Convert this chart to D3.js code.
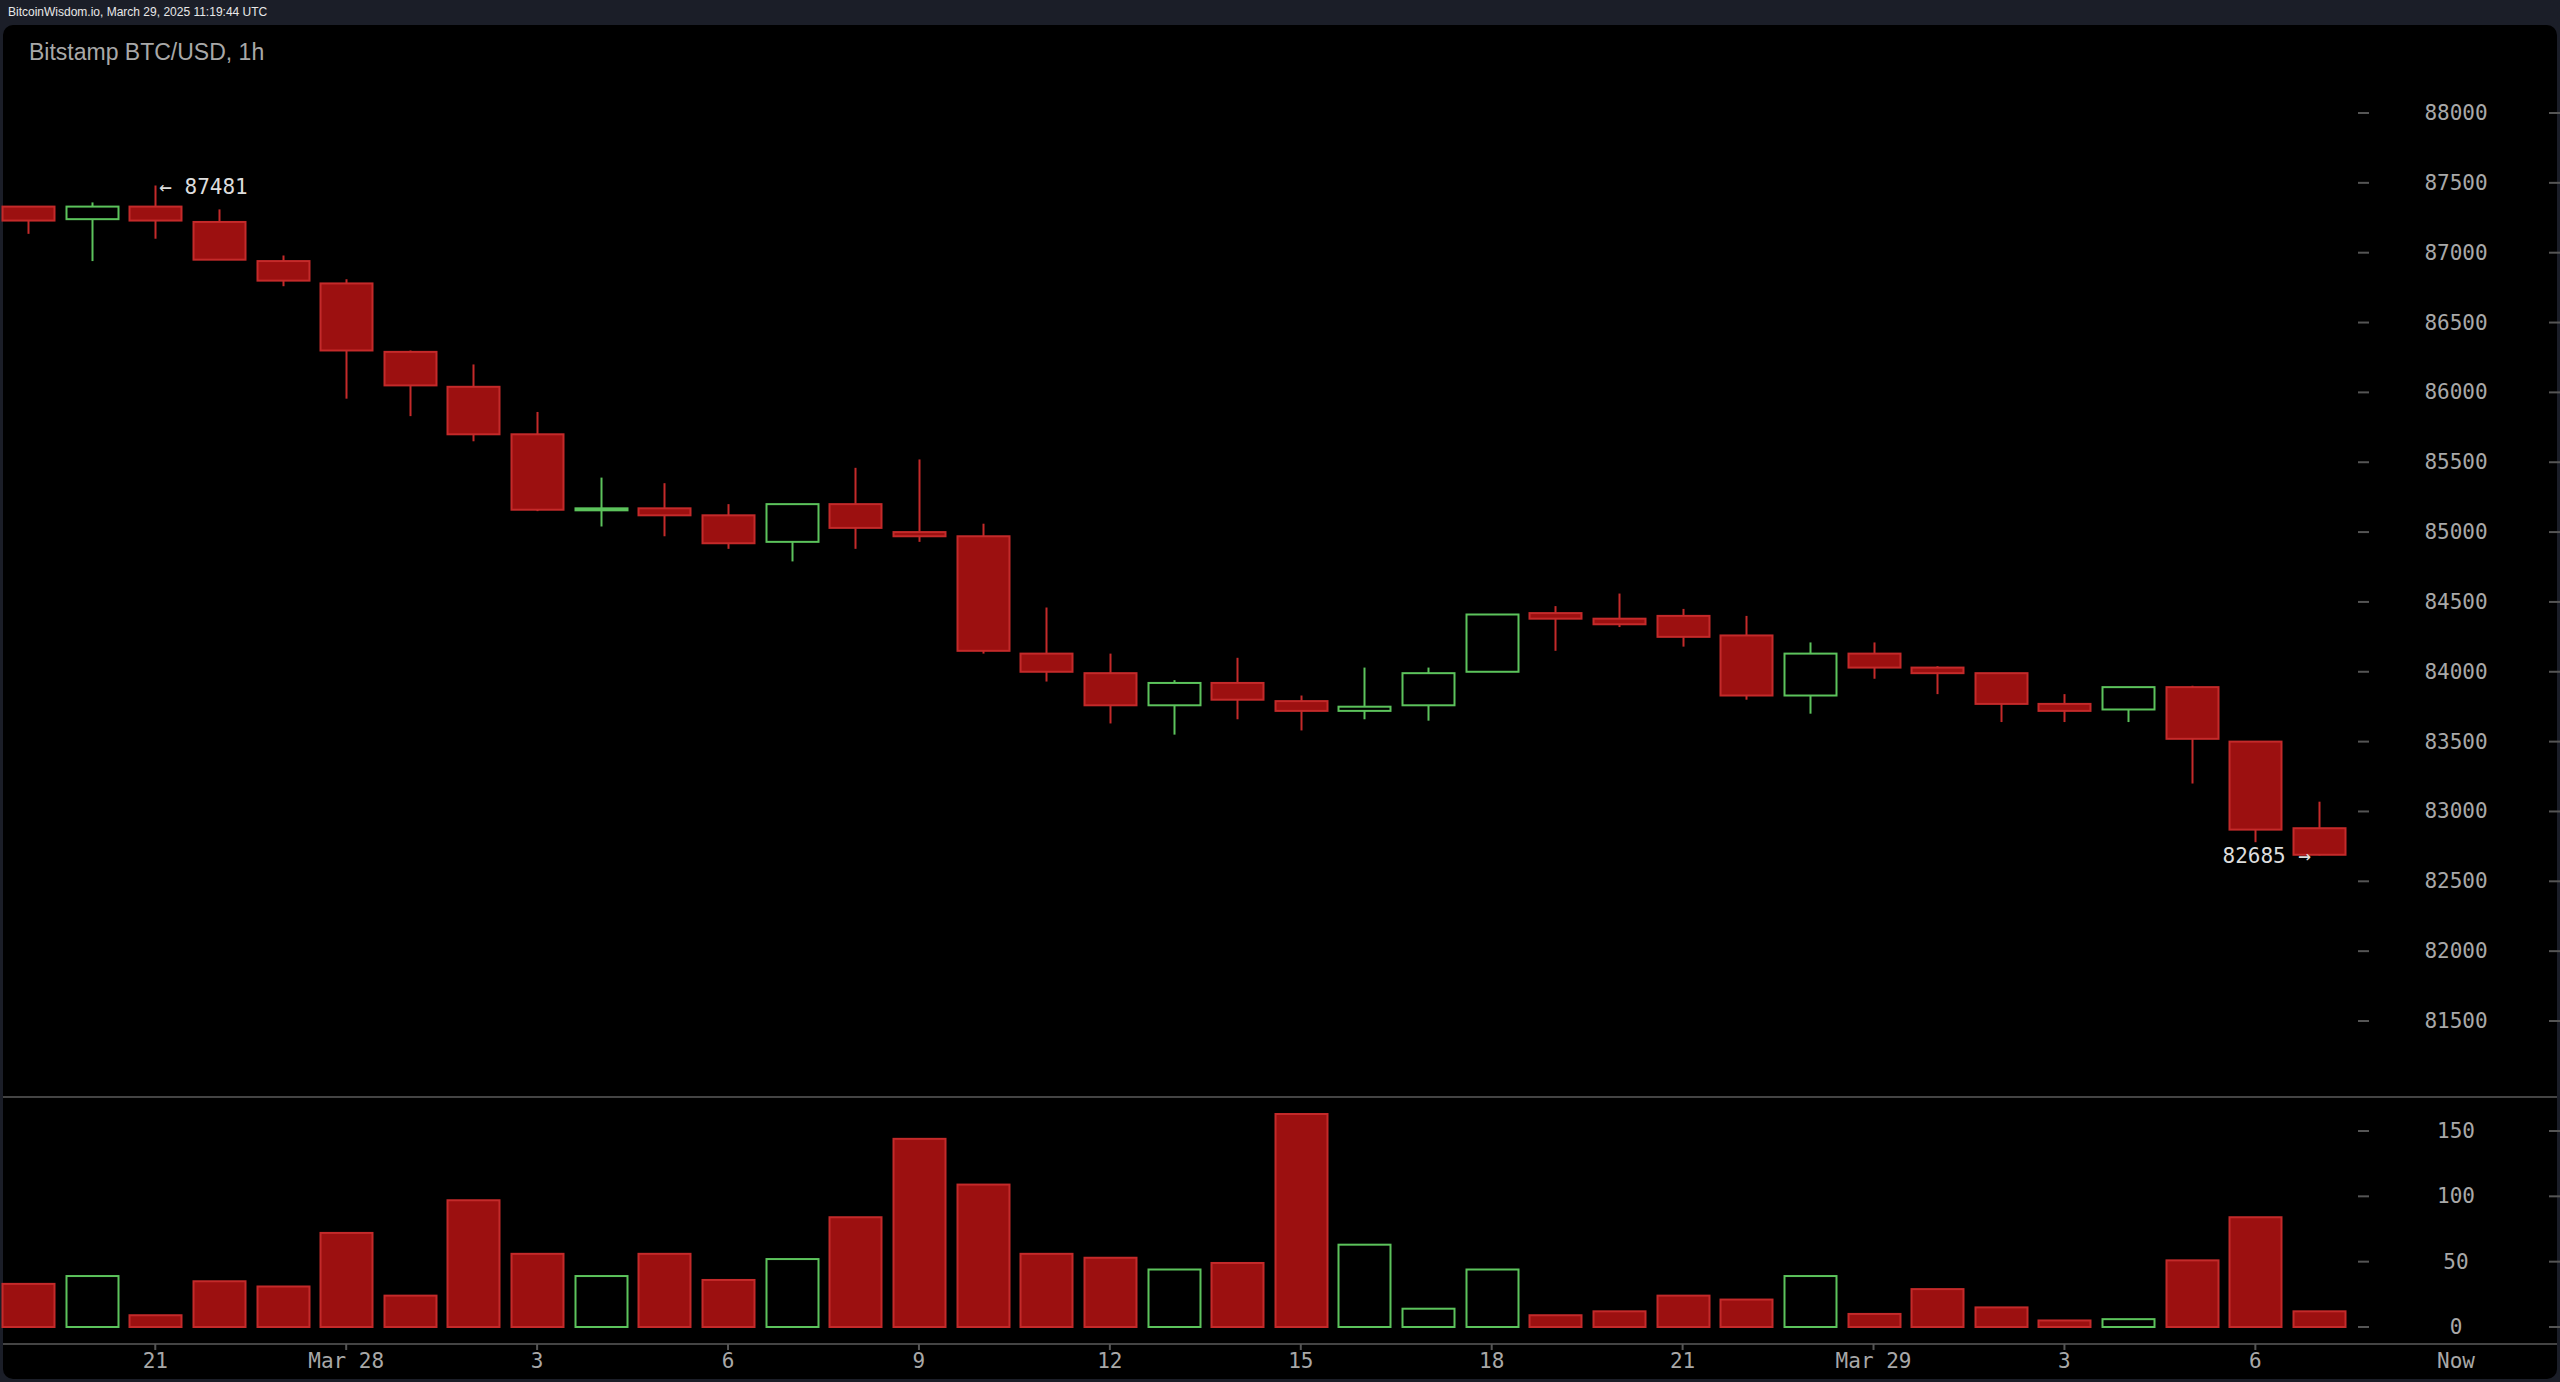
<!DOCTYPE html>
<html>
<head>
<script src="https://cdn.jsdelivr.net/npm/d3@7"></script>
<style>
  * { margin: 0; padding: 0; }
  body { background: #1b1e28; width: 2560px; height: 1382px; overflow: hidden; }
</style>
</head>
<body>
<svg id="viz"></svg>
<script>
// OHLC, one candle per hour (Mar 27 19:00 .. Mar 29 07:00)
var opens  = [87330,87240,87330,87220,86940,86780,86290,86040,85700,85160,85170,85120,84930,85200,85000,84970,84130,83990,83760,83920,83790,83720,83760,84000,84420,84380,84400,84260,83830,84130,84030,83990,83770,83730,83890,83500,82880];
var closes = [87230,87330,87230,86950,86800,86300,86050,85700,85160,85170,85120,84920,85200,85030,84970,84150,84000,83760,83920,83800,83720,83750,83990,84410,84380,84340,84250,83830,84130,84030,83990,83770,83720,83890,83520,82870,82690];
var highs  = [87330,87360,87481,87310,86980,86810,86300,86200,85860,85390,85350,85200,85200,85460,85520,85060,84460,84130,83940,84100,83830,84030,84030,84410,84470,84560,84450,84400,84210,84210,84040,83990,83840,83890,83900,83500,83070];
var lows   = [87135,86940,87100,86950,86760,85955,85830,85650,85150,85040,84970,84880,84790,84880,84930,84130,83930,83630,83550,83660,83580,83660,83650,84000,84150,84320,84180,83800,83700,83950,83840,83640,83640,83640,83200,82780,82685];
var volumes = [33,39,9,35,31,72,24,97,56,39,56,36,52,84,144,109,56,53,44,49,163,63,14,44,9,12,24,21,39,10,29,15,5,6,51,84,12];

var priceTicks = [81500,82000,82500,83000,83500,84000,84500,85000,85500,86000,86500,87000,87500,88000];
var volumeTicks = [0,50,100,150];
// candle index -> label
var timeLabels = [[2,"21"],[5,"Mar 28"],[8,"3"],[11,"6"],[14,"9"],[17,"12"],[20,"15"],[23,"18"],[26,"21"],[29,"Mar 29"],[32,"3"],[35,"6"]];

var W = 2560, H = 1382;
var red = "#9c1010", redLine = "#c42a2a", green = "#5cc35c", txt = "#a8a8a8";

var viz = d3.select("#viz").attr("width", W).attr("height", H);

viz.append("text").attr("x", 8).attr("y", 16)
  .style("font-family", "Liberation Sans, Arial").style("font-size", "12px").style("fill", "#e8e8e8")
  .text("BitcoinWisdom.io, March 29, 2025 11:19:44 UTC");

// panel
viz.append("rect").attr("x", 3).attr("y", 25).attr("width", W - 6).attr("height", H - 28)
  .attr("rx", 10).style("fill", "#000");

viz.append("text").attr("x", 29).attr("y", 60)
  .style("font-family", "Liberation Sans, Arial").style("font-size", "23px").style("fill", txt)
  .text("Bitstamp BTC/USD, 1h");

var x = d3.scaleLinear().domain([0, opens.length - 1]).range([28, 2319]);
var y = d3.scaleLinear().domain([81500, 88000]).range([1021, 113]);
var yv = d3.scaleLinear().domain([0, 150]).range([1327, 1131]);
var bw = 52;

// separators
viz.append("line").attr("x1", 3).attr("x2", W - 3).attr("y1", 1097).attr("y2", 1097).style("stroke", "#444").style("stroke-width", 2);
viz.append("line").attr("x1", 3).attr("x2", W - 3).attr("y1", 1344).attr("y2", 1344).style("stroke", "#444").style("stroke-width", 2);

function axisTicks(vals, scale) {
  vals.forEach(function (v) {
    var yy = scale(v);
    viz.append("line").attr("x1", 2358).attr("x2", 2369).attr("y1", yy).attr("y2", yy).style("stroke", "#555").style("stroke-width", 2);
    viz.append("line").attr("x1", 2549).attr("x2", 2560).attr("y1", yy).attr("y2", yy).style("stroke", "#555").style("stroke-width", 2);
    viz.append("text").attr("x", 2456).attr("y", yy + 7).attr("text-anchor", "middle")
      .style("font-family", "DejaVu Sans Mono").style("font-size", "21px").style("fill", txt).text(v);
  });
}
axisTicks(priceTicks, y);
axisTicks(volumeTicks, yv);

// candles
opens.forEach(function (o, i) {
  var c = closes[i], up = c >= o, col = up ? green : redLine;
  var cx = Math.round(x(i)) + 0.5;
  viz.append("line").attr("x1", cx).attr("x2", cx).attr("y1", y(highs[i])).attr("y2", y(lows[i]))
    .style("stroke", col).style("stroke-width", 2);
  var top = y(Math.max(o, c)), bot = y(Math.min(o, c));
  viz.append("rect").attr("x", cx - bw / 2).attr("y", top).attr("width", bw).attr("height", Math.max(bot - top, 2))
    .style("fill", up ? "#000" : red).style("stroke", col).style("stroke-width", 2);
  viz.append("rect").attr("x", cx - bw / 2).attr("y", yv(volumes[i])).attr("width", bw).attr("height", yv(0) - yv(volumes[i]))
    .style("fill", up ? "#000" : red).style("stroke", col).style("stroke-width", 2);
});

// max / min labels
var iMax = d3.maxIndex(highs), iMin = d3.minIndex(lows);
viz.append("text").attr("x", x(iMax) + 4).attr("y", y(highs[iMax]) + 8)
  .style("font-family", "DejaVu Sans Mono").style("font-size", "21px").style("fill", "#ddd")
  .text("\u2190 " + highs[iMax]);
viz.append("text").attr("x", x(iMin) - 8).attr("y", y(lows[iMin]) + 8).attr("text-anchor", "end")
  .style("font-family", "DejaVu Sans Mono").style("font-size", "21px").style("fill", "#ddd")
  .text(lows[iMin] + " \u2192");

// time labels
timeLabels.forEach(function (t) {
  var tx = x(t[0]);
  viz.append("line").attr("x1", tx).attr("x2", tx).attr("y1", 1344).attr("y2", 1350).style("stroke", "#555").style("stroke-width", 2);
  viz.append("text").attr("x", tx).attr("y", 1368).attr("text-anchor", "middle")
    .style("font-family", "DejaVu Sans Mono").style("font-size", "21px").style("fill", txt).text(t[1]);
});
viz.append("text").attr("x", 2456).attr("y", 1368).attr("text-anchor", "middle")
  .style("font-family", "DejaVu Sans Mono").style("font-size", "21px").style("fill", txt).text("Now");
</script>
</body>
</html>
